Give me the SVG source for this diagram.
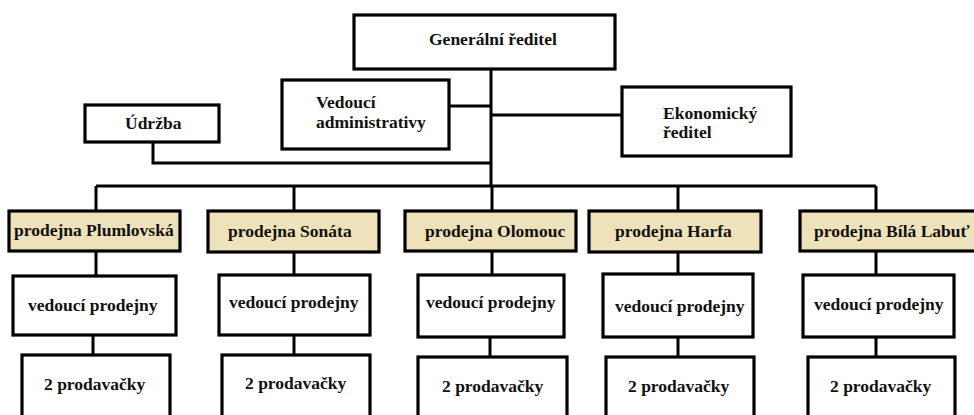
<svg xmlns="http://www.w3.org/2000/svg" width="974" height="415" viewBox="0 0 974 415">
<style>
.box{fill:#ffffff;stroke:#000;stroke-width:3.2}
.store{fill:#eee2ba;stroke:#000;stroke-width:3.2}
.t{font-weight:bold;font-size:17.5px;fill:#111}
.c{fill:none;stroke:#000;stroke-width:3}
</style>
<rect width="974" height="415" fill="#fff"/>
<g id="connectors">
<path class="c" d="M491,69 V186"/>
<path class="c" d="M449,106 H491"/>
<path class="c" d="M491,115 H623"/>
<path class="c" d="M153,142 V163 H491"/>
<path class="c" d="M96,186 H876"/>
<path class="c" d="M96,186 V211 M294,186 V211 M492,186 V211 M678,186 V211 M876,186 V211"/>
<path class="c" d="M96,251 V276 M294,252 V275 M492,251 V275 M678,252 V274 M876,251 V275"/>
<path class="c" d="M93,335 V355 M294,335 V355 M490,337 V357 M678,337 V357 M876,337 V357"/>
</g>
<g font-family="Liberation Serif, serif">
<g id="generalni"><rect class="box" x="354" y="15" width="261" height="54"/><text class="t" x="429" y="45">Generální ředitel</text></g>
<g id="administrativa"><rect class="box" x="282" y="80" width="167" height="69"/><text class="t" x="316" y="108">Vedoucí</text><text class="t" x="316" y="128">administrativy</text></g>
<g id="ekonom"><rect class="box" x="622" y="87" width="169" height="69"/><text class="t" x="663" y="119">Ekonomický</text><text class="t" x="663" y="138">ředitel</text></g>
<g id="udrzba"><rect class="box" x="85" y="105" width="134" height="37"/><text class="t" x="125" y="129">Údržba</text></g>
<g id="store1"><rect class="store" x="9" y="211" width="171" height="40"/><text class="t" x="14" y="236">prodejna Plumlovská</text></g>
<g id="store2"><rect class="store" x="208" y="211" width="171" height="41"/><text class="t" x="228" y="237">prodejna Sonáta</text></g>
<g id="store3"><rect class="store" x="405" y="211" width="171" height="40"/><text class="t" x="425" y="237">prodejna Olomouc</text></g>
<g id="store4"><rect class="store" x="589" y="211" width="172" height="41"/><text class="t" x="615" y="237">prodejna Harfa</text></g>
<g id="store5"><rect class="store" x="800" y="211" width="180" height="40"/><text class="t" x="814" y="237">prodejna Bílá Labuť</text></g>
<g id="ved1"><rect class="box" x="13" y="276" width="163" height="59"/><text class="t" x="28" y="311">vedoucí prodejny</text></g>
<g id="ved2"><rect class="box" x="219" y="275" width="151" height="60"/><text class="t" x="229" y="308">vedoucí prodejny</text></g>
<g id="ved3"><rect class="box" x="418" y="275" width="146" height="62"/><text class="t" x="426" y="308">vedoucí prodejny</text></g>
<g id="ved4"><rect class="box" x="603" y="274" width="150" height="63"/><text class="t" x="615" y="312">vedoucí prodejny</text></g>
<g id="ved5"><rect class="box" x="803" y="275" width="151" height="62"/><text class="t" x="814" y="310">vedoucí prodejny</text></g>
<g id="prod1"><rect class="box" x="22" y="355" width="148" height="70"/><text class="t" x="44" y="390">2 prodavačky</text></g>
<g id="prod2"><rect class="box" x="222" y="355" width="148" height="70"/><text class="t" x="245" y="389">2 prodavačky</text></g>
<g id="prod3"><rect class="box" x="418" y="357" width="149" height="70"/><text class="t" x="442" y="392">2 prodavačky</text></g>
<g id="prod4"><rect class="box" x="606" y="357" width="148" height="70"/><text class="t" x="628" y="392">2 prodavačky</text></g>
<g id="prod5"><rect class="box" x="808" y="357" width="147" height="70"/><text class="t" x="830" y="392">2 prodavačky</text></g>
</g>
</svg>
